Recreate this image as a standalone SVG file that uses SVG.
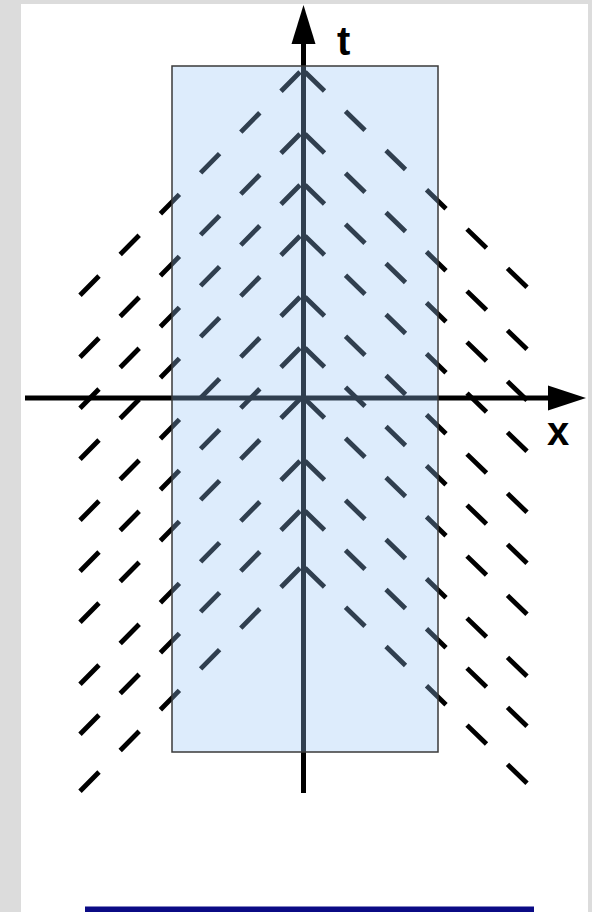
<svg xmlns="http://www.w3.org/2000/svg" width="592" height="912" viewBox="0 0 592 912">
  <style>
    .dl { fill: none; stroke: #000; stroke-width: 4.8; stroke-linecap: butt; stroke-dasharray: 19 21.2; }
    .dr { fill: none; stroke: #000; stroke-width: 4.8; stroke-linecap: butt; stroke-dasharray: 19.5 21; }
    .axis { stroke: #000; stroke-width: 5; fill: none; }
    .lbl { font-family: "Liberation Sans", Arial, sans-serif; font-weight: bold; font-size: 40px; fill: #000; }
  </style>
  <rect x="0" y="0" width="592" height="912" fill="#dcdcdc"/>
  <rect x="21" y="4" width="567" height="908" fill="#ffffff"/>

  <g id="field-left">
    <path class="dl" pathLength="220" d="M300,72 l-220,223.3"/>
    <path class="dl" pathLength="220" d="M300,134 l-220,223.3"/>
    <path class="dl" pathLength="220" d="M300,185 l-220,223.3"/>
    <path class="dl" pathLength="220" d="M300,236 l-220,223.3"/>
    <path class="dl" pathLength="220" d="M300,297 l-220,223.3"/>
    <path class="dl" pathLength="220" d="M300,348 l-220,223.3"/>
    <path class="dl" pathLength="220" d="M300,399 l-220,223.3"/>
    <path class="dl" pathLength="220" d="M300,461 l-220,223.3"/>
    <path class="dl" pathLength="220" d="M300,511 l-220,223.3"/>
    <path class="dl" pathLength="220" d="M300,568 l-220,223.3"/>
  </g>
  <g id="field-right">
    <path class="dr" pathLength="222" d="M305,72 l222,215.3"/>
    <path class="dr" pathLength="222" d="M305,134 l222,215.3"/>
    <path class="dr" pathLength="222" d="M305,185 l222,215.3"/>
    <path class="dr" pathLength="222" d="M305,236 l222,215.3"/>
    <path class="dr" pathLength="222" d="M305,297 l222,215.3"/>
    <path class="dr" pathLength="222" d="M305,348 l222,215.3"/>
    <path class="dr" pathLength="222" d="M305,399 l222,215.3"/>
    <path class="dr" pathLength="222" d="M305,461 l222,215.3"/>
    <path class="dr" pathLength="222" d="M305,511 l222,215.3"/>
    <path class="dr" pathLength="222" d="M305,568 l222,215.3"/>
  </g>

  <g id="axes">
    <line class="axis" x1="303.5" y1="40" x2="303.5" y2="793"/>
    <polygon points="303.5,5 291.5,44 315.5,44" fill="#000"/>
    <line class="axis" x1="25" y1="398" x2="552" y2="398"/>
    <polygon points="586,398 548,385.5 548,410.5" fill="#000"/>
  </g>

  <g id="domain">
    <rect x="172" y="66" width="266" height="686" fill="#96c5f7" fill-opacity="0.32" stroke="#3a3a3a" stroke-width="1.5"/>
  </g>

  <g id="labels">
    <text class="lbl" x="337" y="55">t</text>
    <text class="lbl" x="547" y="445">x</text>
  </g>

  <rect x="85" y="906.5" width="449" height="6" fill="#0b0b85"/>
</svg>
